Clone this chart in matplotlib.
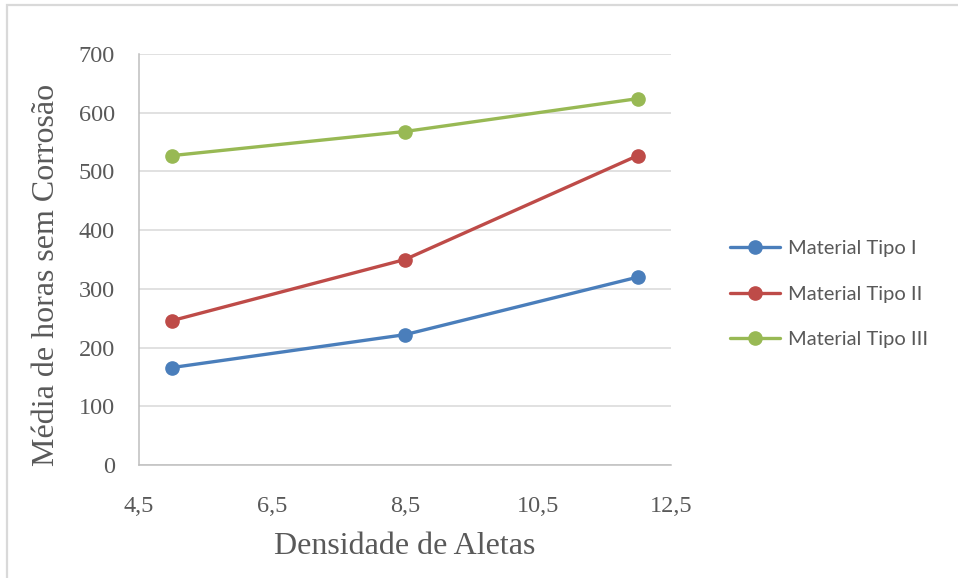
import matplotlib.pyplot as plt
from matplotlib.patches import Rectangle

# Fin density (x) and mean hours without corrosion for each material
densidade = [5, 8.5, 12]
tipo_1 = [166, 222, 320]
tipo_2 = [246, 350, 527]
tipo_3 = [527, 568, 624]

series = [
    ('Material Tipo I', tipo_1, '#4A7EBB'),
    ('Material Tipo II', tipo_2, '#BE4B48'),
    ('Material Tipo III', tipo_3, '#98B954'),
]

x_ticks = [4.5, 6.5, 8.5, 10.5, 12.5]
y_ticks = [0, 100, 200, 300, 400, 500, 600, 700]

text_gray = '#595959'
serif = ['Liberation Serif', 'DejaVu Serif']

fig = plt.figure(figsize=(9.58, 5.78), dpi=100)
ax = fig.add_axes([139 / 958, 1 - 465 / 578, 532 / 958, 411 / 578])

for name, values, color in series:
    ax.plot(densidade, values, color=color, linewidth=2.4, marker='o',
            markersize=9.5, label=name, solid_capstyle='round')

ax.set_xlim(4.5, 12.5)
ax.set_ylim(0, 700)
ax.set_xticks(x_ticks)
ax.set_xticklabels([str(v).replace('.', ',') for v in x_ticks])
ax.set_yticks(y_ticks)
ax.set_yticklabels([str(v) for v in y_ticks])

# light horizontal grid, no tick marks
ax.grid(axis='y', color='#D9D9D9', linewidth=1.1)
ax.set_axisbelow(True)
ax.tick_params(length=0, labelsize=17.5, labelcolor=text_gray)
ax.tick_params(axis='y', pad=17.5)
ax.tick_params(axis='x', pad=22)
for lbl in ax.get_xticklabels() + ax.get_yticklabels():
    lbl.set_family(serif)

for side in ['top', 'right']:
    ax.spines[side].set_visible(False)
for side in ['left', 'bottom']:
    ax.spines[side].set_color('#BFBFBF')
    ax.spines[side].set_linewidth(1.1)

ax.set_xlabel('Densidade de Aletas', family=serif, fontsize=23,
              color=text_gray, labelpad=11)
ax.set_ylabel('Média de horas sem Corrosão', family=serif, fontsize=23,
              color=text_gray)
ax.yaxis.set_label_coords(-0.146, 0.462)

leg = ax.legend(loc='center left', bbox_to_anchor=(730 / 958, 1 - 294 / 578),
                bbox_transform=fig.transFigure, frameon=False,
                prop={'family': ['Lato', 'DejaVu Sans'], 'size': 14.5},
                handlelength=2.5, handletextpad=0.4, labelspacing=1.4,
                borderpad=0, borderaxespad=0)
for t in leg.get_texts():
    t.set_color(text_gray)

# outer chart frame
fig.patches.append(Rectangle((7 / 958, -0.1), 1.2, 1.1 - 5 / 578,
                             transform=fig.transFigure, fill=False,
                             edgecolor='#D9D9D9', linewidth=1.6))

fig.savefig('out.png', dpi=100)
